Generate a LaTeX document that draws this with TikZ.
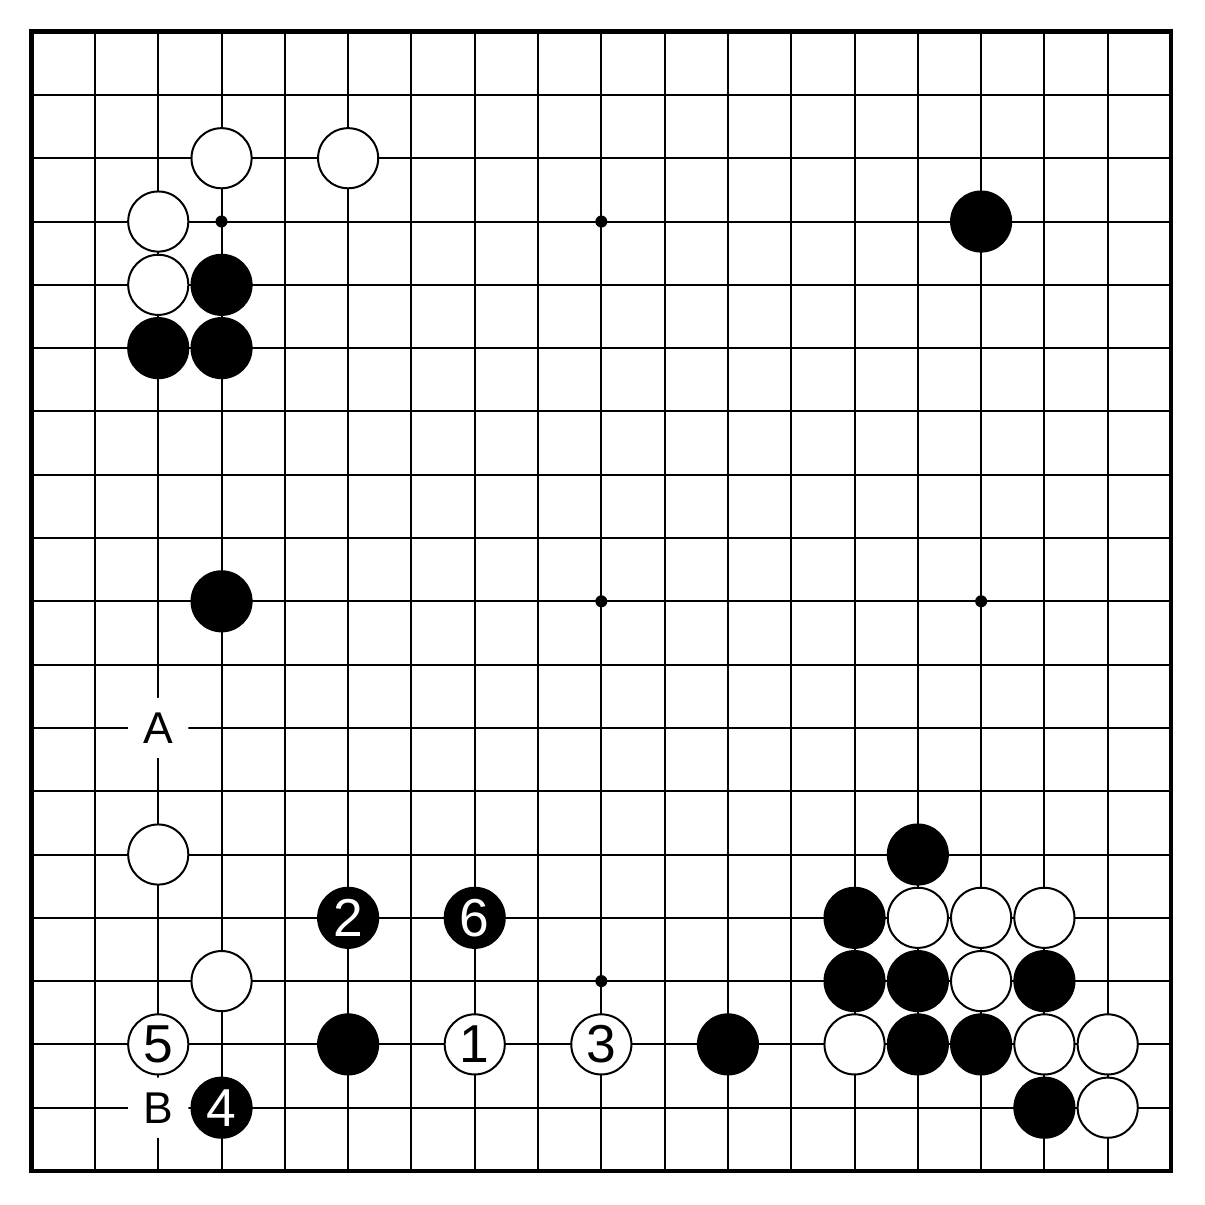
\documentclass[tikz,border=0pt]{standalone}
\usepackage{fontspec}
\setmainfont{Liberation Sans}
\usepackage{tikz}

\begin{document}
\begin{tikzpicture}[
	weiss/.style={circle, draw=black, fill=white, line width=0.9pt, minimum size=0.95cm, inner sep=0pt, font=\fontsize{24}{24}\selectfont},
	schwarz/.style={circle, draw=black, fill=black, line width=0.9pt, minimum size=0.95cm, inner sep=0pt, text=white, font=\fontsize{24}{24}\selectfont},
	marke/.style={circle, fill=white, minimum size=0.95cm, inner sep=0pt, font=\fontsize{20}{20}\selectfont}]
	\fill[white] (-0.5,-0.537) rectangle (18.537,18.5); % weisser Rand
	\useasboundingbox (-0.5,-0.537) rectangle (18.537,18.5);
	
	\draw[line width=0.9pt] (0,0) grid (18,18); %Linien
	\draw[line width=2.1pt] (0,0) rectangle (18,18); %Rand
	
	\foreach \x in {3,9,15} %Sternpunkte
		\foreach \y in {3,9,15}
			\fill (\x,\y) circle[radius=0.095];
	
	% oben links
	\node[weiss] (w1) at (3,16) {};
	\node[weiss] (w2) at (5,16) {};
	\node[weiss] (w3) at (2,15) {};
	\node[weiss] (w4) at (2,14) {};
	\node[schwarz] (s1) at (3,14) {};
	\node[schwarz] (s2) at (2,13) {};
	\node[schwarz] (s3) at (3,13) {};
	\node[schwarz] (s4) at (15,15) {};
	\node[schwarz] (s5) at (3,9) {};
	
	% unten links
	\node[marke] (A) at (2,7) {A};
	\node[weiss] (w5) at (2,5) {};
	\node[schwarz] (z2) at (5,4) {2};
	\node[schwarz] (z6) at (7,4) {6};
	\node[weiss] (w6) at (3,3) {};
	\node[weiss] (z5) at (2,2) {5};
	\node[schwarz] (s6) at (5,2) {};
	\node[weiss] (z1) at (7,2) {1};
	\node[weiss] (z3) at (9,2) {3};
	\node[schwarz] (s7) at (11,2) {};
	\node[marke] (B) at (2,1) {B};
	\node[schwarz] (z4) at (3,1) {4};
	
	% unten rechts
	\node[schwarz] (s8) at (14,5) {};
	\node[schwarz] (s9) at (13,4) {};
	\node[weiss] (w7) at (14,4) {};
	\node[weiss] (w8) at (15,4) {};
	\node[weiss] (w9) at (16,4) {};
	\node[schwarz] (s10) at (13,3) {};
	\node[schwarz] (s11) at (14,3) {};
	\node[weiss] (w10) at (15,3) {};
	\node[schwarz] (s12) at (16,3) {};
	\node[weiss] (w11) at (13,2) {};
	\node[schwarz] (s13) at (14,2) {};
	\node[schwarz] (s14) at (15,2) {};
	\node[weiss] (w12) at (16,2) {};
	\node[weiss] (w13) at (17,2) {};
	\node[schwarz] (s15) at (16,1) {};
	\node[weiss] (w14) at (17,1) {};
	
	%\draw[help lines] (0,0) grid (18,18);
\end{tikzpicture}
\end{document}
